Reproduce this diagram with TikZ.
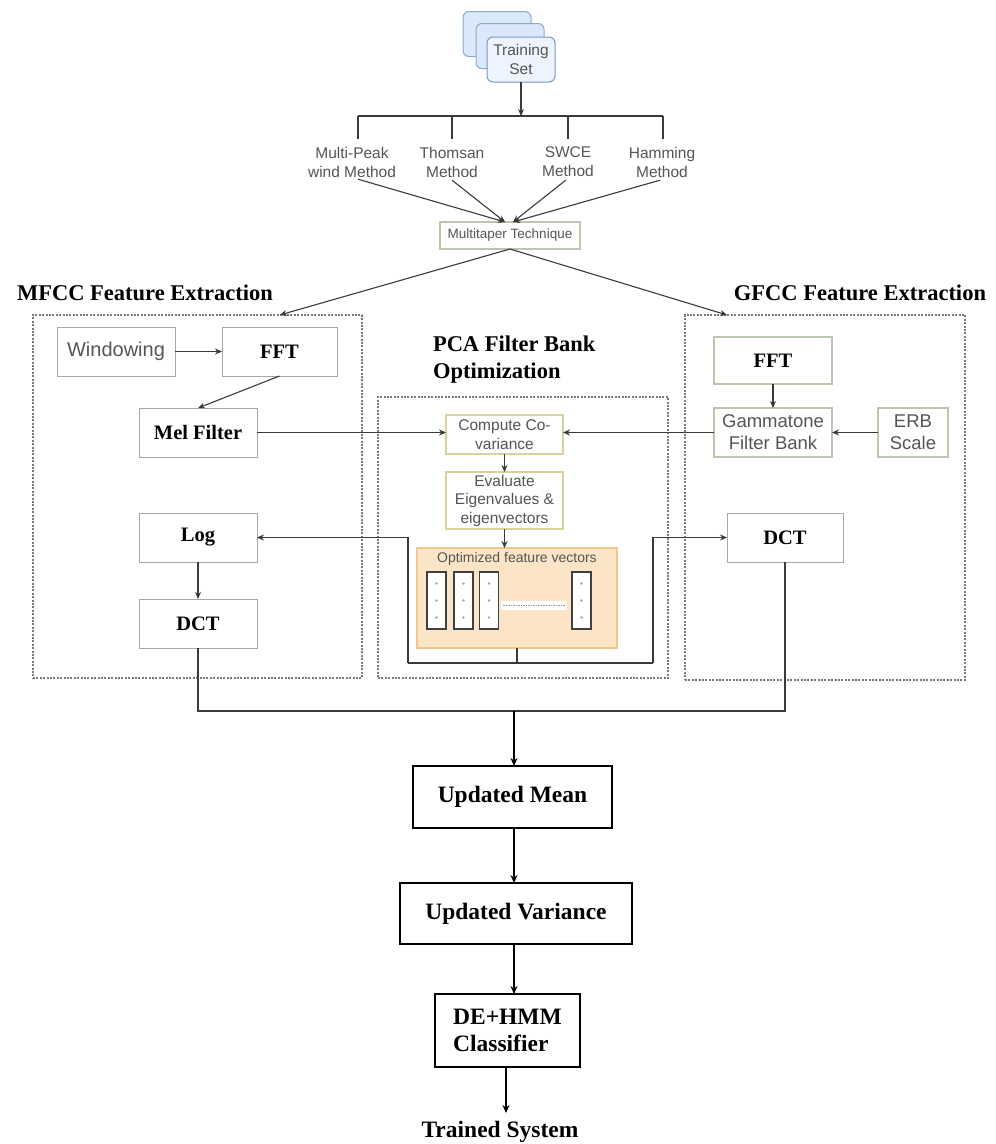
\documentclass[tikz,border=0pt]{standalone}
\usepackage{fontspec}
\setmainfont{Liberation Serif}
\setsansfont{Liberation Sans}
\usetikzlibrary{arrows.meta,calc}
\definecolor{cardfill}{HTML}{DAE8FC}
\definecolor{cardfront}{HTML}{EEF4FD}
\definecolor{cardedge}{HTML}{8FA8CC}
\definecolor{linegray}{HTML}{3A3A3A}
\definecolor{txtgray}{HTML}{555555}
\definecolor{boxgray}{HTML}{A8A8A8}
\definecolor{greenedge}{HTML}{BAC6AE}
\definecolor{yellowedge}{HTML}{D8D29C}
\definecolor{optfill}{HTML}{FCE4C6}
\definecolor{optedge}{HTML}{F0C88E}
\definecolor{dotgray}{HTML}{7A7A7A}
\begin{document}
\begin{tikzpicture}[x=1pt,y=-1pt,
  every node/.style={inner sep=0pt, outer sep=0pt},
  card/.style={draw=cardedge, line width=1pt, fill=cardfill, rounded corners=6pt, minimum width=68pt, minimum height=45pt},
  sanslbl/.style={font=\sffamily\fontsize{15.5}{19}\selectfont, text=txtgray, align=center},
  gbox/.style={draw=boxgray, line width=1pt, fill=white, rectangle},
  grbox/.style={draw=greenedge, line width=1.1pt, fill=white, rectangle},
  ybox/.style={draw=yellowedge, line width=1.1pt, fill=white, rectangle},
  serifbox/.style={font=\fontsize{20.5}{24}\selectfont\bfseries, text=black},
  sansbox/.style={font=\sffamily\fontsize{18.5}{22}\selectfont, text=txtgray, align=center},
  smallsans/.style={font=\sffamily\fontsize{15.5}{18.5}\selectfont, text=txtgray, align=center},
  bbox/.style={draw=black, line width=1.5pt, fill=white, rectangle, font=\fontsize{23.5}{27}\selectfont\bfseries},
  ttl/.style={font=\fontsize{22.5}{27}\selectfont\bfseries, text=black},
  region/.style={draw=dotgray, line width=1.3pt, dash pattern=on 2pt off 1.4pt},
  arr/.style={-{Stealth[length=7pt,width=6pt]}, line width=1.1pt, draw=linegray},
  ln/.style={line width=1.1pt, draw=linegray},
  barr/.style={-{Stealth[length=8pt,width=7pt]}, line width=1.4pt, draw=black},
  bln/.style={line width=1.4pt, draw=linegray},
  vec/.style={draw=black!75, line width=1.3pt, fill=white, minimum width=19pt, minimum height=57pt}
]
\useasboundingbox (0,0) rectangle (996,1144);

% ---------- training set ----------
\node[card] (cardA) at (497,34) {};
\node[card] (cardB) at (510,46) {};
\node[card, fill=cardfront, draw=cardedge!120] (train) at (521,59.5)
  {\parbox{60pt}{\centering\sffamily\fontsize{15.5}{19}\selectfont\color{txtgray}Training\\Set}};

% ---------- methods ----------
\coordinate (busT) at (521,116);
\coordinate (busL) at (358,116);
\coordinate (busR) at (663,116);
\draw[arr] (train.south) -- (busT);
\draw[ln] (busL) -- (busR);
\node[sanslbl] (mp) at (352,162) {Multi-Peak\\wind Method};
\node[sanslbl] (th) at (452,162) {Thomsan\\Method};
\node[sanslbl] (sw) at (568,162) {SWCE\\Method};
\node[sanslbl] (hm) at (662,162) {Hamming\\Method};
\draw[ln] (busL) -- (358,139);
\draw[ln] (452,116) -- (452,139);
\draw[ln] (568,116) -- (568,139);
\draw[ln] (busR) -- (663,139);

\node[draw=greenedge, line width=1.1pt, fill=white, minimum width=140pt, minimum height=27pt,
      font=\sffamily\fontsize{13.5}{16}\selectfont, text=txtgray] (mt) at (510,235.5) {Multitaper Technique};
\draw[arr] ($(mp.south)+(6,2)$) -- ($(mt.north)+(-5,0)$);
\draw[arr] ($(th.south)+(0,3)$) -- ($(mt.north)+(-5,0)$);
\draw[arr] ($(sw.south)+(-2,3)$) -- ($(mt.north)+(3,0)$);
\draw[arr] ($(hm.south)+(-2,3)$) -- ($(mt.north)+(3,0)$);

% ---------- titles ----------
\node[ttl] (mfcct) at (145,293) {MFCC Feature Extraction};
\node[ttl] (gfcct) at (860,293) {GFCC Feature Extraction};
\node[ttl, align=left, anchor=west] (pcat) at (433,360) {PCA Filter Bank\\Optimization};

% ---------- regions ----------
\node[region, minimum width=329pt, minimum height=363pt] (mfccbox) at (197.5,496.5) {};
\node[region, minimum width=290pt, minimum height=281pt] (pcabox) at (523,537.5) {};
\node[region, minimum width=280pt, minimum height=365pt] (gfccbox) at (825,497.5) {};

\draw[arr] (mt.south) -- ($(mfccbox.north west)!0.75!(mfccbox.north east)$);
\draw[arr] (mt.south) -- ($(gfccbox.north west)!0.15!(gfccbox.north east)$);

% ---------- MFCC ----------
\node[gbox, minimum width=118pt, minimum height=49pt, font=\sffamily\fontsize{20}{24}\selectfont, text=txtgray] (win) at (116,351.5) {Windowing};
\node[gbox, serifbox, minimum width=115pt, minimum height=49pt] (fft1) at (279.5,351.5) {FFT};
\node[gbox, serifbox, minimum width=118pt, minimum height=49pt] (mel) at (198,432.5) {Mel Filter};
\node[gbox, serifbox, minimum width=118pt, minimum height=49pt] (log) at (198,537.5) {Log};
\node[gbox, serifbox, minimum width=118pt, minimum height=49pt] (dct1) at (198,623.5) {DCT};
\draw[arr] (win.east) -- (fft1.west);
\draw[arr] (fft1.south) -- (mel.north);
\draw[arr] (log.south) -- (dct1.north);

% ---------- PCA ----------
\node[ybox, smallsans, minimum width=117pt, minimum height=39pt] (cov) at (504.5,434.5) {Compute Co-\\variance};
\node[ybox, smallsans, minimum width=117pt, minimum height=57pt] (eig) at (504.5,500.5) {Evaluate\\Eigenvalues \&\\eigenvectors};
\node[draw=optedge, line width=1.2pt, fill=optfill, minimum width=200pt, minimum height=100pt] (opt) at (517,598) {};
\node[font=\sffamily\fontsize{14}{17}\selectfont, text=txtgray] (optl) at (517,559) {Optimized feature vectors};
\node[vec] (v1) at (436.5,600.5) {};
\node[vec] (v2) at (463.5,600.5) {};
\node[vec] (v3) at (489,600.5) {};
\node[vec] (v4) at (581.5,600.5) {};
\foreach \v in {v1,v2,v3,v4}{
  \foreach \dy in {-17,0,17}{
    \fill[black!35] ($(\v.center)+(0,\dy)$) circle (1.3pt);
  }
}
\fill[white] (501,601) rectangle (567,610);
\draw[black!40, line width=1pt, dash pattern=on 1.5pt off 1pt] (503,605.5) -- (565,605.5);

\draw[arr] (cov.south) -- (eig.north);
\draw[arr] (eig.south) -- (eig.south |- opt.north);
\draw[arr] (mel.east) -- (mel.east -| cov.west);

% ---------- GFCC ----------
\node[grbox, serifbox, minimum width=118pt, minimum height=47pt] (fft2) at (773,360.5) {FFT};
\node[grbox, sansbox, minimum width=118pt, minimum height=49pt] (gam) at (773,432.5) {Gammatone\\Filter Bank};
\node[grbox, sansbox, minimum width=70pt, minimum height=49pt] (erb) at (913,432.5) {ERB\\Scale};
\node[gbox, serifbox, minimum width=116pt, minimum height=49pt] (dct2) at (785,537.5) {DCT};
\draw[arr] (fft2.south) -- (gam.north);
\draw[arr] (erb.west) -- (gam.east);
\draw[arr] (gam.west) -- (gam.west -| cov.east);

% ---------- PCA feedback routing ----------
\coordinate (fbC) at (517,663);
\coordinate (fbL) at (408,663);
\coordinate (fbR) at (653,663);
\draw[ln] (opt.south) -- (fbC);
\draw[ln] (fbL) -- (fbR);
\draw[arr] (fbL) -- (fbL |- log.east) -- (log.east);
\draw[arr] (fbR) -- (fbR |- dct2.west) -- (dct2.west);

% ---------- bottom ----------
\coordinate (bL) at (198,711);
\coordinate (bR) at (785,711);
\coordinate (bC) at (514,711);
\draw[bln] (dct1.south) -- (bL) -- (bR) -- (dct2.south);
\node[bbox, minimum width=199pt, minimum height=62pt] (mean) at (512.5,797) {Updated Mean};
\node[bbox, minimum width=232pt, minimum height=61pt] (var) at (516,913.5) {Updated Variance};
\node[bbox, minimum width=145pt, minimum height=73pt, align=left] (de) at (507.5,1030.5) {DE+HMM\\Classifier};
\node[font=\fontsize{23.5}{27}\selectfont\bfseries] (ts) at (500,1132) {Trained System};
\draw[barr] (bC) -- (bC |- mean.north);
\draw[barr] (mean.south -| bC) -- (bC |- var.north);
\draw[barr] (var.south -| bC) -- (bC |- de.north);
\draw[barr] (de.south -| 506,0) -- (506,1113);
\end{tikzpicture}
\end{document}
